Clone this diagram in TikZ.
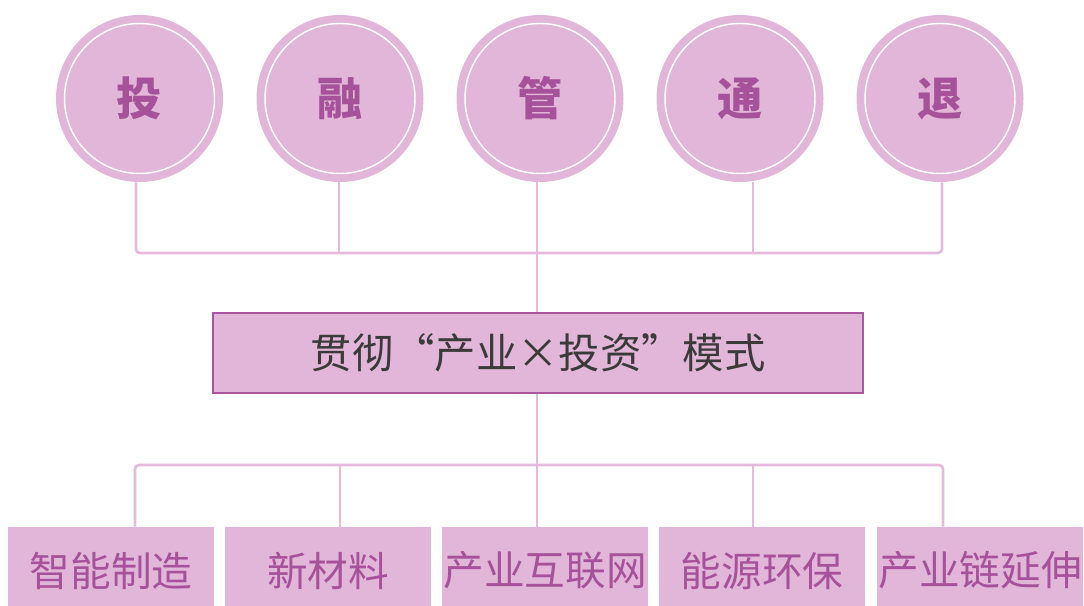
\documentclass[tikz,border=0pt]{standalone}
\usepackage{fontspec}
\newfontfamily\cjk{Noto Sans CJK SC}

\definecolor{pinkfill}{HTML}{E2B6D8}
\definecolor{linkpink}{HTML}{E6BADC}
\definecolor{edgepurple}{HTML}{A8569E}
\definecolor{textpurple}{HTML}{A5529A}
\definecolor{textgrey}{HTML}{3A3A3A}

\tikzset{
  ball/.style={circle, fill=pinkfill, minimum size=125.25pt, inner sep=0pt,
    text=textpurple, font=\cjk\bfseries\fontsize{34}{40}\selectfont,
    path picture={\draw[white, line width=1.1pt] (path picture bounding box.center) circle (56.25pt);}},
  mainbox/.style={rectangle, fill=pinkfill, draw=edgepurple, line width=1.5pt,
    minimum width=487.5pt, minimum height=60pt, inner sep=0pt,
    text=textgrey, font=\cjk\fontsize{31}{36}\selectfont},
  fieldbox/.style={rectangle, fill=pinkfill, minimum width=154.5pt, minimum height=65.25pt,
    inner sep=0pt, text=textpurple, font=\cjk\fontsize{30.5}{36}\selectfont},
  link/.style={draw=linkpink, line width=2pt, rounded corners=3pt}
}

\begin{document}
\begin{tikzpicture}[x=0.75pt,y=-0.75pt]
  \useasboundingbox (0,0) rectangle (1084,606);

  % top row
  \node[ball] (c1) at (139.5,98.5) {投};
  \node[ball] (c2) at (340,98.5) {融};
  \node[ball] (c3) at (540,98.5) {管};
  \node[ball] (c4) at (740,98.5) {通};
  \node[ball] (c5) at (940,98.5) {退};

  % middle
  \node[mainbox] (mid) at (538,353) {贯彻“产业×投资”模式};

  % bottom row
  \node[fieldbox] (b1) at (111,570.5) {智能制造};
  \node[fieldbox] (b2) at (328,570.5) {新材料};
  \node[fieldbox] (b3) at (545,570.5) {产业互联网};
  \node[fieldbox] (b4) at (762,570.5) {能源环保};
  \node[fieldbox] (b5) at (980,570.5) {产业链延伸};

  % upper bracket
  \coordinate (k1) at (136,253);
  \coordinate (k2) at (339,253);
  \coordinate (k3) at (537,253);
  \coordinate (k4) at (753,253);
  \coordinate (k5) at (942,253);
  \draw[link] (k1 |- c1.south) -- (k1) -- (k5) -- (k5 |- c5.south);
  \draw[link] (k2 |- c2.south) -- (k2);
  \draw[link] (k3 |- c3.south) -- (k3);
  \draw[link] (k4 |- c4.south) -- (k4);
  \draw[link] (k3) -- (k3 |- mid.north);

  % lower bracket
  \coordinate (j1) at (135,465);
  \coordinate (j2) at (340,465);
  \coordinate (j3) at (537,465);
  \coordinate (j4) at (753,465);
  \coordinate (j5) at (943,465);
  \draw[link] (j1 |- b1.north) -- (j1) -- (j5) -- (j5 |- b5.north);
  \draw[link] (j2) -- (j2 |- b2.north);
  \draw[link] (j4) -- (j4 |- b4.north);
  \draw[link] (j3 |- mid.south) -- (j3 |- b3.north);
\end{tikzpicture}
\end{document}
